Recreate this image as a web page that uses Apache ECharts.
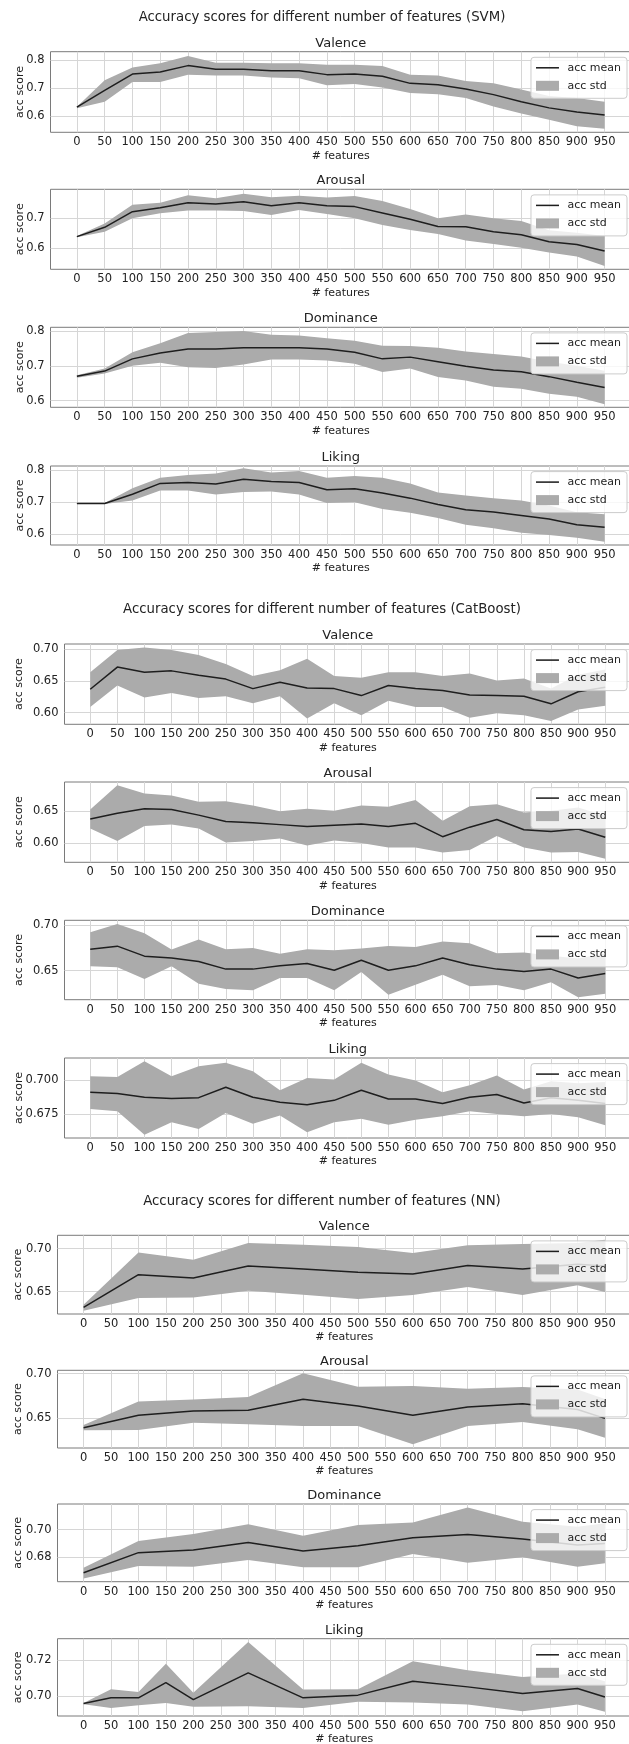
<!DOCTYPE html>
<html>
<head>
<meta charset="utf-8">
<script src="https://cdn.jsdelivr.net/npm/echarts@6/dist/echarts.min.js"></script>
<style>
html,body{margin:0;padding:0;background:#ffffff;}
#chart{width:629px;height:1744px;}
</style>
</head>
<body>
<div id="chart"></div>
<script>
// ---------------- DATA ----------------
const xTickValues = [0,50,100,150,200,250,300,350,400,450,500,550,600,650,700,750,800,850,900,950];
const featuresAll = [0,50,100,150,200,250,300,350,400,450,500,550,600,650,700,750,800,850,900,950];
const featuresNN = [0,100,200,300,400,500,600,700,800,900,950];
const featuresNNLiking = [0,50,100,150,200,300,400,500,600,700,800,900,950];

const svmTitle = 'Accuracy scores for different number of features (SVM)';
const catTitle = 'Accuracy scores for different number of features (CatBoost)';
const nnTitle = 'Accuracy scores for different number of features (NN)';

// SVM
const svmValenceMean  = [0.633,0.692,0.750,0.757,0.780,0.767,0.767,0.762,0.762,0.748,0.750,0.742,0.717,0.712,0.697,0.677,0.652,0.630,0.615,0.605];
const svmValenceUpper = [0.634,0.728,0.773,0.788,0.814,0.790,0.790,0.788,0.788,0.783,0.783,0.779,0.748,0.745,0.725,0.717,0.695,0.672,0.665,0.652];
const svmValenceLower = [0.629,0.652,0.722,0.722,0.748,0.745,0.745,0.738,0.735,0.710,0.715,0.702,0.683,0.678,0.665,0.635,0.610,0.588,0.565,0.556];

const svmArousalMean  = [0.639,0.670,0.722,0.735,0.752,0.748,0.755,0.742,0.752,0.742,0.739,0.718,0.697,0.673,0.672,0.655,0.645,0.622,0.613,0.591];
const svmArousalUpper = [0.641,0.683,0.745,0.752,0.777,0.767,0.782,0.770,0.775,0.769,0.774,0.758,0.731,0.700,0.713,0.700,0.691,0.660,0.652,0.641];
const svmArousalLower = [0.637,0.655,0.700,0.717,0.726,0.726,0.724,0.711,0.728,0.714,0.700,0.678,0.661,0.648,0.626,0.614,0.602,0.586,0.573,0.541];

const svmDominanceMean  = [0.670,0.685,0.720,0.737,0.748,0.748,0.752,0.752,0.752,0.748,0.739,0.720,0.725,0.712,0.699,0.688,0.683,0.669,0.653,0.638];
const svmDominanceUpper = [0.673,0.692,0.739,0.765,0.794,0.797,0.800,0.789,0.787,0.779,0.772,0.758,0.757,0.752,0.741,0.734,0.727,0.712,0.700,0.686];
const svmDominanceLower = [0.666,0.678,0.700,0.709,0.696,0.694,0.704,0.718,0.718,0.715,0.706,0.682,0.692,0.668,0.658,0.640,0.634,0.620,0.611,0.590];

const svmLikingMean  = [0.6965,0.6965,0.725,0.759,0.762,0.757,0.772,0.765,0.762,0.739,0.742,0.729,0.713,0.693,0.677,0.670,0.659,0.648,0.630,0.622];
const svmLikingUpper = [0.698,0.698,0.744,0.777,0.785,0.790,0.806,0.793,0.798,0.777,0.782,0.777,0.759,0.731,0.721,0.713,0.706,0.690,0.669,0.663];
const svmLikingLower = [0.695,0.695,0.706,0.737,0.737,0.724,0.732,0.734,0.724,0.698,0.700,0.679,0.667,0.651,0.630,0.619,0.605,0.598,0.589,0.577];

// CatBoost
const catValenceMean  = [0.637,0.672,0.664,0.666,0.659,0.653,0.638,0.648,0.639,0.638,0.627,0.643,0.638,0.635,0.628,0.627,0.626,0.614,0.633,0.640];
const catValenceUpper = [0.664,0.699,0.703,0.699,0.691,0.677,0.658,0.667,0.685,0.658,0.655,0.664,0.664,0.658,0.662,0.651,0.654,0.638,0.660,0.668];
const catValenceLower = [0.609,0.643,0.624,0.631,0.623,0.626,0.615,0.626,0.591,0.615,0.596,0.619,0.609,0.609,0.592,0.599,0.596,0.587,0.605,0.611];

const catArousalMean  = [0.638,0.647,0.654,0.653,0.644,0.634,0.632,0.629,0.626,0.628,0.630,0.626,0.631,0.610,0.625,0.637,0.621,0.618,0.622,0.609];
const catArousalUpper = [0.653,0.691,0.678,0.675,0.665,0.666,0.659,0.650,0.654,0.651,0.659,0.657,0.668,0.635,0.658,0.661,0.648,0.651,0.656,0.643];
const catArousalLower = [0.623,0.603,0.627,0.629,0.623,0.601,0.603,0.607,0.596,0.604,0.600,0.593,0.593,0.585,0.589,0.611,0.593,0.585,0.586,0.575];

const catDominanceMean  = [0.6736,0.677,0.666,0.664,0.660,0.6517,0.6517,0.6553,0.6578,0.6504,0.6614,0.6504,0.6553,0.6639,0.6565,0.6517,0.6492,0.6517,0.642,0.6468];
const catDominanceUpper = [0.6924,0.7015,0.6912,0.6732,0.6843,0.6736,0.6751,0.6687,0.6737,0.6725,0.6743,0.6773,0.676,0.6822,0.6803,0.6692,0.6701,0.6663,0.6634,0.669];
const catDominanceLower = [0.6548,0.6537,0.6408,0.6548,0.6357,0.6298,0.6283,0.6419,0.6419,0.6283,0.6485,0.6235,0.6346,0.6456,0.6327,0.6342,0.6283,0.6371,0.6206,0.6246];

const catLikingMean  = [0.6911,0.6901,0.6874,0.6864,0.6871,0.6948,0.6874,0.6837,0.6819,0.6851,0.6926,0.6861,0.6861,0.6827,0.6874,0.6894,0.6832,0.687,0.6851,0.6827];
const catLikingUpper = [0.703,0.7025,0.7141,0.703,0.7104,0.7129,0.7067,0.6926,0.7017,0.7005,0.7129,0.7042,0.6998,0.6911,0.6963,0.7035,0.6931,0.6993,0.6977,0.6988];
const catLikingLower = [0.6787,0.677,0.6597,0.6688,0.6639,0.6757,0.6678,0.6738,0.6614,0.6688,0.6715,0.6671,0.6708,0.6733,0.677,0.675,0.6733,0.675,0.6725,0.6666];

// NN
const nnValenceMean  = [0.6318,0.6698,0.6659,0.6798,0.6764,0.6725,0.6705,0.6806,0.6764,0.682,0.680];
const nnValenceUpper = [0.6349,0.6957,0.6872,0.7066,0.7047,0.7019,0.695,0.7039,0.7054,0.7066,0.7105];
const nnValenceLower = [0.6279,0.6426,0.6434,0.6512,0.6465,0.6415,0.6461,0.6554,0.6461,0.6574,0.6496];

const nnArousalMean  = [0.6395,0.6534,0.6582,0.659,0.6713,0.6638,0.6534,0.6627,0.6664,0.66,0.65];
const nnArousalUpper = [0.6425,0.669,0.671,0.674,0.7004,0.6854,0.6862,0.6832,0.6851,0.6823,0.6716];
const nnArousalLower = [0.6366,0.6369,0.6451,0.6433,0.6414,0.6414,0.6209,0.6414,0.6459,0.6377,0.6284];

const nnDominanceMean  = [0.6689,0.6834,0.6853,0.6908,0.6846,0.6884,0.6942,0.6966,0.6933,0.689,0.690];
const nnDominanceUpper = [0.6725,0.6918,0.6969,0.7039,0.6957,0.7034,0.7053,0.7161,0.7058,0.7022,0.7046];
const nnDominanceLower = [0.6648,0.6737,0.6733,0.6781,0.6728,0.6728,0.6824,0.6761,0.68,0.6733,0.6757];

const nnLikingMean  = [0.6959,0.6991,0.6991,0.7076,0.6981,0.713,0.6991,0.7006,0.7083,0.7052,0.7015,0.7043,0.6996];
const nnLikingUpper = [0.6963,0.7039,0.7024,0.7181,0.7019,0.7302,0.7037,0.7039,0.7194,0.7144,0.7107,0.7126,0.7083];
const nnLikingLower = [0.6956,0.6935,0.695,0.6963,0.6941,0.6944,0.6935,0.6969,0.6965,0.6954,0.6917,0.6954,0.6913];

// y tick labels per panel
const svmValenceTicks = [0.6,0.7,0.8];
const svmArousalTicks = [0.6,0.7];
const svmDominanceTicks = [0.6,0.7,0.8];
const svmLikingTicks = [0.6,0.7,0.8];
const catValenceTicks = [0.60,0.65,0.70];
const catArousalTicks = [0.60,0.65];
const catDominanceTicks = [0.65,0.70];
const catLikingTicks = [0.675,0.700];
const nnValenceTicks = [0.65,0.70];
const nnArousalTicks = [0.65,0.70];
const nnDominanceTicks = [0.68,0.70];
const nnLikingTicks = [0.70,0.72];

// ---------------- LAYOUT / STYLE ----------------
const FONT = 'DejaVu Sans';
const TXT = '#222222';
const BAND = '#ababab';
const LINE = '#1e1e1e';
const GRIDLINE = '#d6d6d6';
const FRAME = '#7a7a7a';
const PLOT_RIGHT = 631;
const TICK_FS = 11.5;

const figures = [
  { title: svmTitle, titleY: 17.3, left: 50.5, nameGap: 25.2,
    panels: [
      { name:'Valence',   x:featuresAll, mean:svmValenceMean,   hi:svmValenceUpper,   lo:svmValenceLower,   ticks:svmValenceTicks,   dec:1, top:51.7,  bottom:132.3, ymin:0.5433, ymax:0.8294 },
      { name:'Arousal',   x:featuresAll, mean:svmArousalMean,   hi:svmArousalUpper,   lo:svmArousalLower,   ticks:svmArousalTicks,   dec:1, top:189.3, bottom:269.3, ymin:0.530,  ymax:0.7967 },
      { name:'Dominance', x:featuresAll, mean:svmDominanceMean, hi:svmDominanceUpper, lo:svmDominanceLower, ticks:svmDominanceTicks, dec:1, top:327.3, bottom:407.3, ymin:0.581,  ymax:0.8106 },
      { name:'Liking',    x:featuresAll, mean:svmLikingMean,    hi:svmLikingUpper,    lo:svmLikingLower,    ticks:svmLikingTicks,    dec:1, top:466,   bottom:545,   ymin:0.5666, ymax:0.8134 }
    ] },
  { title: catTitle, titleY: 610, left: 64.5, nameGap: 39.5,
    panels: [
      { name:'Valence',   x:featuresAll, mean:catValenceMean,   hi:catValenceUpper,   lo:catValenceLower,   ticks:catValenceTicks,   dec:2, top:644,   bottom:724.3, ymin:0.5817, ymax:0.7084 },
      { name:'Arousal',   x:featuresAll, mean:catArousalMean,   hi:catArousalUpper,   lo:catArousalLower,   ticks:catArousalTicks,   dec:2, top:782,   bottom:862.3, ymin:0.5696, ymax:0.6962 },
      { name:'Dominance', x:featuresAll, mean:catDominanceMean, hi:catDominanceUpper, lo:catDominanceLower, ticks:catDominanceTicks, dec:2, top:920.3, bottom:999.7, ymin:0.618,  ymax:0.7055 },
      { name:'Liking',    x:featuresAll, mean:catLikingMean,    hi:catLikingUpper,    lo:catLikingLower,    ticks:catLikingTicks,    dec:3, top:1058,  bottom:1138,  ymin:0.6572, ymax:0.7165 }
    ] },
  { title: nnTitle, titleY: 1201.3, left: 57.5, nameGap: 33.5,
    panels: [
      { name:'Valence',   x:featuresNN,       mean:nnValenceMean,   hi:nnValenceUpper,   lo:nnValenceLower,   ticks:nnValenceTicks,   dec:2, top:1235.3, bottom:1314,   ymin:0.6241, ymax:0.7156 },
      { name:'Arousal',   x:featuresNN,       mean:nnArousalMean,   hi:nnArousalUpper,   lo:nnArousalLower,   ticks:nnArousalTicks,   dec:2, top:1370.3, bottom:1448,   ymin:0.6168, ymax:0.7038 },
      { name:'Dominance', x:featuresNN,       mean:nnDominanceMean, hi:nnDominanceUpper, lo:nnDominanceLower, ticks:nnDominanceTicks, dec:2, top:1504,   bottom:1581.7, ymin:0.6624, ymax:0.7186 },
      { name:'Liking',    x:featuresNNLiking, mean:nnLikingMean,    hi:nnLikingUpper,    lo:nnLikingLower,    ticks:nnLikingTicks,    dec:2, top:1638.7, bottom:1716,   ymin:0.689,  ymax:0.732 }
    ] }
];

// ---------------- BUILD OPTION ----------------
const grids = [], xAxes = [], yAxes = [], series = [], titles = [], legends = [];
let gi = 0;
figures.forEach(fig => {
  titles.push({
    text: fig.title, left: 322, top: fig.titleY, textAlign: 'center', textVerticalAlign: 'middle', padding: 0,
    textStyle: { fontFamily: FONT, fontSize: 13.3, fontWeight: 'normal', color: TXT }
  });
  fig.panels.forEach(p => {
    const left = fig.left, width = PLOT_RIGHT - left, height = p.bottom - p.top;
    grids.push({ left: left, top: p.top, width: width, height: height, show: true,
      borderColor: FRAME, borderWidth: 1, backgroundColor: 'transparent',
      containLabel: false, outerBoundsMode: 'none' });
    titles.push({
      text: p.name, left: left + width / 2, top: p.top - 8.4, textAlign: 'center', textVerticalAlign: 'middle', padding: 0,
      textStyle: { fontFamily: FONT, fontSize: 13, fontWeight: 'normal', color: TXT }
    });
    xAxes.push({ type: 'value', gridIndex: gi, min: -47.5, max: 997.5,
      axisLine: { show: false }, axisTick: { show: false, customValues: xTickValues },
      axisLabel: { customValues: xTickValues, margin: 4, fontFamily: FONT, fontSize: TICK_FS, color: TXT },
      splitLine: { show: true, lineStyle: { color: GRIDLINE, width: 1 } },
      name: '# features', nameLocation: 'middle', nameGap: 18, nameMoveOverlap: false,
      nameTextStyle: { fontFamily: FONT, fontSize: 11, color: TXT } });
    const dec = p.dec;
    yAxes.push({ type: 'value', gridIndex: gi, min: p.ymin, max: p.ymax,
      axisLine: { show: false }, axisTick: { show: false, customValues: p.ticks },
      axisLabel: { customValues: p.ticks, margin: 6, fontFamily: FONT, fontSize: TICK_FS, color: TXT,
        formatter: v => Number(v).toFixed(dec) },
      splitLine: { show: true, lineStyle: { color: GRIDLINE, width: 1 } },
      name: 'acc score', nameLocation: 'middle', nameGap: fig.nameGap, nameMoveOverlap: false,
      nameTextStyle: { fontFamily: FONT, fontSize: 11, color: TXT } });
    const panel = p;
    series.push({ type: 'custom', name: 'acc std', xAxisIndex: gi, yAxisIndex: gi, clip: true, silent: true, z: 2,
      itemStyle: { color: BAND },
      data: panel.x.map((v, j) => [v, panel.lo[j], panel.hi[j]]),
      encode: { x: 0, y: [1, 2] },
      renderItem: (params, api) => {
        if (params.dataIndex !== 0) return null;
        const upper = panel.x.map((v, j) => api.coord([v, panel.hi[j]]));
        const lower = panel.x.map((v, j) => api.coord([v, panel.lo[j]])).reverse();
        return { type: 'polygon', shape: { points: upper.concat(lower) }, style: { fill: BAND } };
      } });
    series.push({ type: 'line', name: 'acc mean', xAxisIndex: gi, yAxisIndex: gi,
      data: panel.x.map((v, j) => [v, panel.mean[j]]), symbol: 'none', showSymbol: false, silent: true,
      lineStyle: { color: LINE, width: 1.5 }, itemStyle: { color: LINE }, z: 3 });
    legends.push({ top: p.top + 5.6, right: 2, orient: 'vertical', align: 'left',
      data: [
        { name: 'acc mean', icon: 'path://M0,0L60,0L60,4L0,4Z', itemStyle: { color: LINE, borderWidth: 0 } },
        { name: 'acc std', icon: 'rect', itemStyle: { color: BAND, borderWidth: 0 } }
      ],
      symbolKeepAspect: true,
      itemWidth: 23, itemHeight: 10, itemGap: 5, padding: [4, 6, 6, 5],
      backgroundColor: 'rgba(255,255,255,0.8)', borderColor: '#cccccc', borderWidth: 1, borderRadius: 3,
      selectedMode: false, formatter: ' {name}',
      textStyle: { fontFamily: FONT, fontSize: 11, color: TXT, lineHeight: 13 }, z: 10 });
    gi++;
  });
});

const chart = echarts.init(document.getElementById('chart'), null, { renderer: 'canvas', width: 629, height: 1744 });
chart.setOption({
  animation: false,
  backgroundColor: '#ffffff',
  textStyle: { fontFamily: FONT },
  title: titles,
  grid: grids,
  xAxis: xAxes,
  yAxis: yAxes,
  legend: legends,
  series: series
});
</script>
</body>
</html>
